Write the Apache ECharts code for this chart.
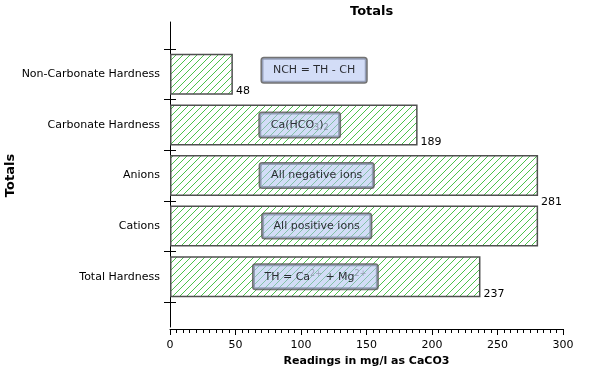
<!DOCTYPE html>
<html><head><meta charset="utf-8">
<script src="https://cdn.jsdelivr.net/npm/echarts@6/dist/echarts.min.js"></script>
<style>html,body{margin:0;padding:0;background:#fff}#c{width:600px;height:382px}</style>
</head><body><div id="c"></div>
<script>
// ---- data ----
const categories = ['Non-Carbonate Hardness', 'Carbonate Hardness', 'Anions', 'Cations', 'Total Hardness'];
const values = [48, 189, 281, 281, 237];
const notes = ['NCH = TH - CH', '{t|Ca(HCO}{sub|3}{t|)}{sub|2}', 'All negative ions', 'All positive ions', '{t|TH = Ca}{sup|2+}{t| + Mg}{sup|2+}'];
const noteX = [110, 99, 112, 112, 111];
const xMin = 0, xMax = 300, xStep = 50;

const FONT = 'DejaVu Sans';
function hatch() {
  const s = 7, c = document.createElement('canvas');
  c.width = s; c.height = s;
  const g = c.getContext('2d');
  g.fillStyle = '#fff'; g.fillRect(0, 0, s, s);
  g.strokeStyle = '#4cc24c'; g.lineWidth = 1;
  g.beginPath();
  g.moveTo(0, s); g.lineTo(s, 0);
  g.moveTo(-1, 1); g.lineTo(1, -1);
  g.moveTo(s - 1, s + 1); g.lineTo(s + 1, s - 1);
  g.stroke();
  return c;
}

const chart = echarts.init(document.getElementById('c'));
const barData = values.map((v, i) => {
  const d = { value: v };
  if (i === 2) d.label = { offset: [0, 27] };
  if (i === 3) d.label = { show: false };
  return d;
});
const noteData = notes.map((t, i) => {
  const d = { value: [noteX[i], i], label: { formatter: t } };
  if (i === 0) d.label.offset = [0, -4];
  return d;
});

chart.setOption({
  animation: false,
  textStyle: { fontFamily: FONT },
  title: {
    text: 'Totals', left: 345, top: 0,
    textStyle: { fontFamily: FONT, fontSize: 13, fontWeight: 'bold', color: '#000' }
  },
  grid: [
    { left: 170, right: 37, top: 49, bottom: 80, outerBoundsMode: 'none', containLabel: false },
    { left: 170, right: 37, top: 22, bottom: 55, outerBoundsMode: 'none', containLabel: false }
  ],
  xAxis: [
    {
      type: 'value', gridIndex: 0, min: xMin, max: xMax, interval: xStep,
      offset: 27,
      name: 'Readings in mg/l as CaCO3', nameLocation: 'middle', nameGap: 27, nameMoveOverlap: false,
      nameTextStyle: { fontFamily: FONT, fontSize: 11, fontWeight: 'bold', color: '#000' },
      axisLine: { show: true, lineStyle: { color: '#000', width: 1 } },
      axisTick: { show: true, length: 6, lineStyle: { color: '#000' } },
      minorTick: { show: true, splitNumber: 10, length: 4, lineStyle: { color: '#000' } },
      axisLabel: { fontFamily: FONT, fontSize: 11, color: '#000', margin: 11 },
      splitLine: { show: false }
    },
    { type: 'value', gridIndex: 1, show: false, min: xMin, max: xMax }
  ],
  yAxis: [
    {
      type: 'category', gridIndex: 0, data: categories, inverse: true,
      name: 'Totals', nameLocation: 'middle', nameGap: 153, nameMoveOverlap: false,
      nameTextStyle: { fontFamily: FONT, fontSize: 13, fontWeight: 'bold', color: '#000' },
      axisLine: { show: true, lineStyle: { color: '#000', width: 1 } },
      axisTick: { show: true, length: 6, lineStyle: { color: '#000' } },
      axisLabel: { fontFamily: FONT, fontSize: 11, color: '#000', margin: 10 },
      splitLine: { show: false }
    },
    {
      type: 'category', gridIndex: 0, data: categories, inverse: true, position: 'left',
      axisLine: { show: false },
      axisTick: { show: true, inside: true, length: 6, lineStyle: { color: '#000' } },
      axisLabel: { show: false }, splitLine: { show: false }
    },
    {
      type: 'value', gridIndex: 1, min: 0, max: 1,
      axisLine: { show: true, lineStyle: { color: '#000', width: 1 } },
      axisTick: { show: false }, axisLabel: { show: false }, splitLine: { show: false }
    }
  ],
  series: [
    {
      type: 'bar', xAxisIndex: 0, yAxisIndex: 0, data: barData,
      barWidth: 41,
      itemStyle: { color: { image: hatch(), repeat: 'repeat' }, borderColor: '#505050', borderWidth: 1.5 },
      label: {
        show: true, position: 'right', distance: 3, offset: [0, 17],
        fontFamily: FONT, fontSize: 11, color: '#000'
      },
      z: 2
    },
    {
      type: 'scatter', xAxisIndex: 0, yAxisIndex: 0, data: noteData,
      symbolSize: 0, silent: true, z: 5,
      label: {
        show: true, position: 'inside',
        fontFamily: FONT, fontSize: 11, color: '#000', lineHeight: 14,
        backgroundColor: 'rgba(176,194,240,0.7)', borderColor: '#505050', borderWidth: 1.5,
        borderRadius: 2, padding: [5, 11],
        rich: {
          t: { fontFamily: FONT, fontSize: 11, color: '#000', lineHeight: 14 },
          sub: { fontFamily: FONT, fontSize: 8, color: '#6f7488', lineHeight: 9, verticalAlign: 'bottom' },
          sup: { fontFamily: FONT, fontSize: 8, color: '#8a8fa3', lineHeight: 9, verticalAlign: 'top' }
        }
      }
    }
  ]
});
</script>
</body></html>
